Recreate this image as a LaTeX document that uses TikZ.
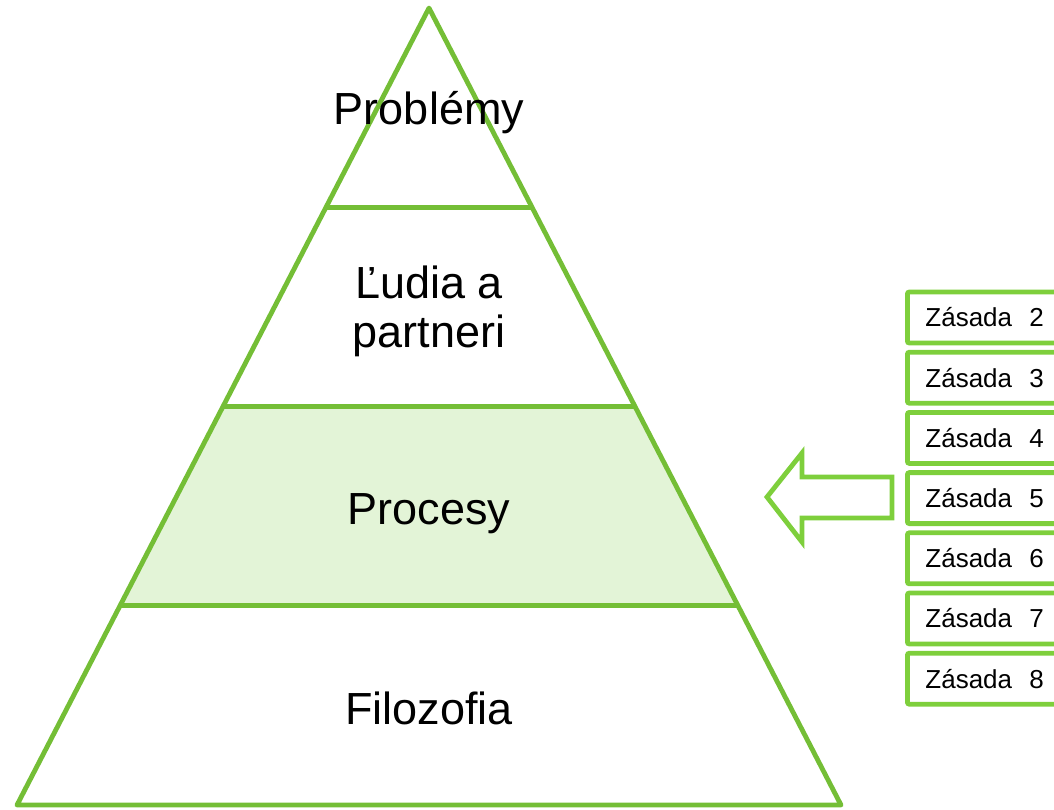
\documentclass[tikz,border=0pt]{standalone}
\usepackage{fontspec}
\setmainfont{Liberation Sans}
\usetikzlibrary{calc}
\definecolor{pyrgreen}{HTML}{74BE36}
\definecolor{boxgreen}{HTML}{7ECF3C}
\definecolor{tierfill}{HTML}{E3F4D7}
\begin{document}
\begin{tikzpicture}[x=1pt,y=-1pt,
  pyrline/.style={draw=pyrgreen,line width=4.8pt,line join=round},
  tierlabel/.style={font=\fontsize{45}{50}\selectfont,align=center,inner sep=0pt,text=black},
  zasada/.style={draw=boxgreen,line width=4.8pt,rounded corners=2pt,fill=white,
    minimum height=51pt,text width=150pt,align=left,inner xsep=18pt,inner ysep=0pt,
    anchor=west,font=\fontsize{26}{30}\selectfont},
  blockarrow/.style={draw=boxgreen,line width=4.8pt,fill=white,line join=miter}]
\useasboundingbox (0,0) rectangle (1054,809);
\clip (0,0) rectangle (1054,809);
% pyramid coordinates
\coordinate (apex) at (429,8);
\coordinate (bl) at (17,805);
\coordinate (br) at (841,805);
\coordinate (l1) at ($(apex)!0.25!(bl)$);
\coordinate (r1) at ($(apex)!0.25!(br)$);
\coordinate (l2) at ($(apex)!0.5!(bl)$);
\coordinate (r2) at ($(apex)!0.5!(br)$);
\coordinate (l3) at ($(apex)!0.75!(bl)$);
\coordinate (r3) at ($(apex)!0.75!(br)$);
% shaded tier
\fill[tierfill] (l2) -- (r2) -- (r3) -- (l3) -- cycle;
% outline and tier lines
\draw[pyrline] (apex) -- (br) -- (bl) -- cycle;
\draw[pyrline] (l1) -- (r1);
\draw[pyrline] (l2) -- (r2);
\draw[pyrline] (l3) -- (r3);
% labels
\node[tierlabel,anchor=base] (t1) at (429,124) {Problémy};
\node[tierlabel,anchor=base] (t2a) at (429,298) {Ľudia a};
\node[tierlabel,anchor=base] (t2b) at (429,347) {partneri};
\node[tierlabel,anchor=base] (t3) at (429,524) {Procesy};
\node[tierlabel,anchor=base] (t4) at (429,724) {Filozofia};
% boxes
\foreach \i [count=\k from 0] in {2,...,8}{
  \node[zasada] (z\i) at (905,{317.5+60.2*\k}) {Zásada\ \ \i};
}
% block arrow
\draw[blockarrow] (767,497) -- (802,453) -- (802,477) -- (892,477)
  -- (892,518) -- (802,518) -- (802,542) -- cycle;
\end{tikzpicture}
\end{document}
